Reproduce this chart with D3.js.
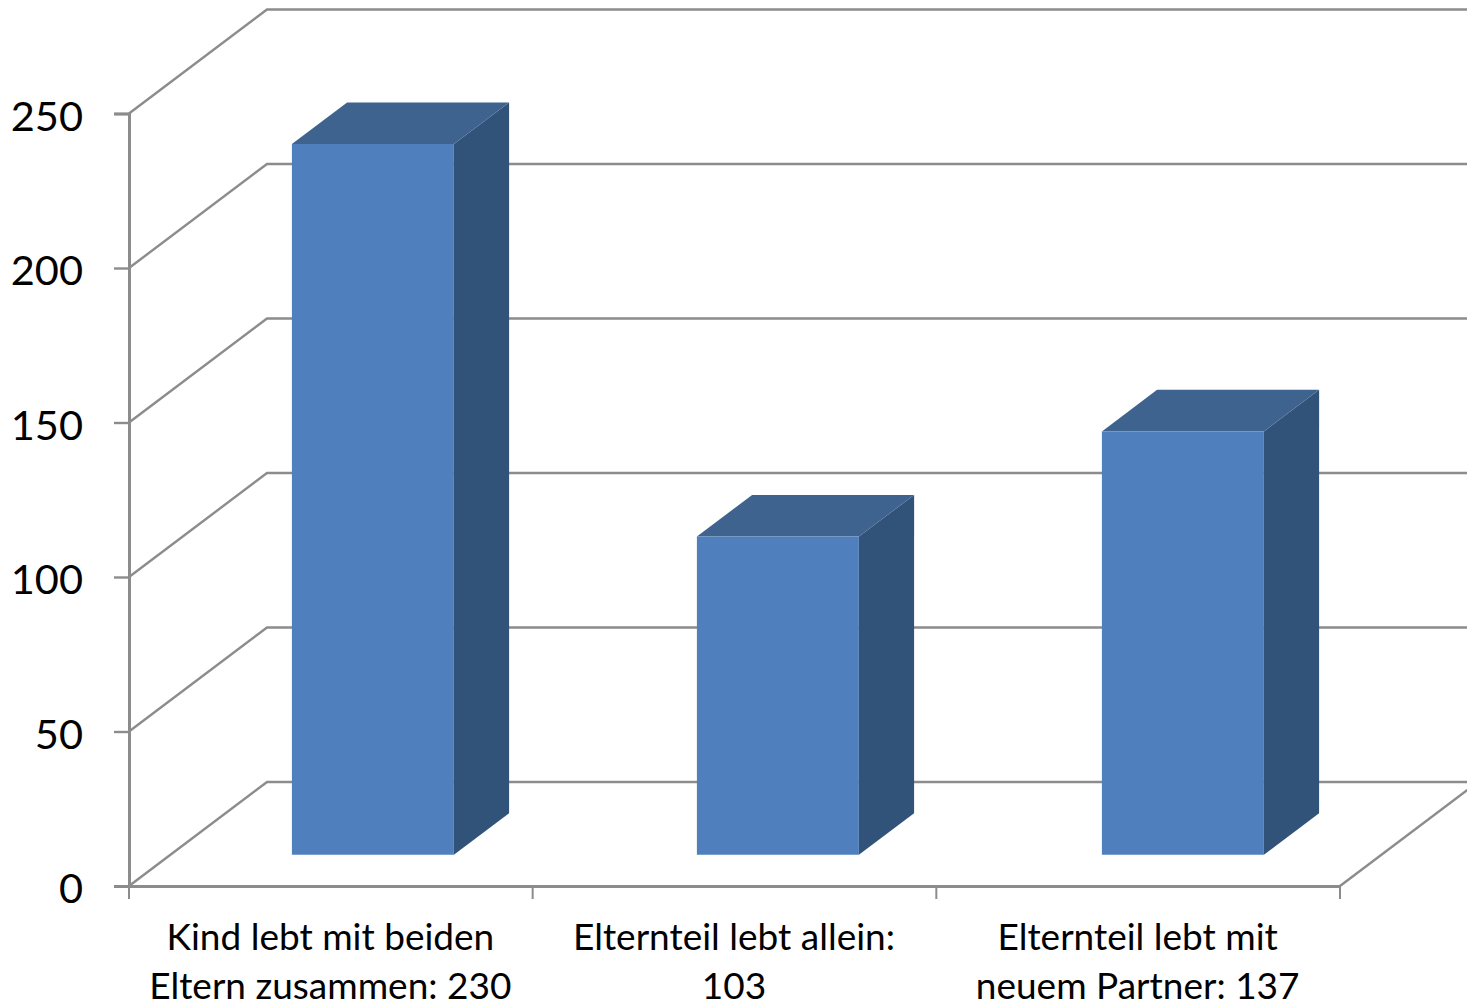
<!DOCTYPE html>
<html lang="de">
<head>
<meta charset="utf-8">
<script src="https://cdn.jsdelivr.net/npm/d3@7/dist/d3.min.js"></script>
<style>
html, body { margin: 0; padding: 0; background: #fff; overflow: hidden; }
svg { display: block; }
text { font-family: Lato, "Open Sans", sans-serif; fill: #000; }
</style>
</head>
<body>
<svg id="chart" width="1467" height="1004"></svg>
<script>
// Household situation of the child
const categoryLines = [
  ["Kind lebt mit beiden", "Eltern zusammen: 230"],
  ["Elternteil lebt allein:", "103"],
  ["Elternteil lebt mit", "neuem Partner: 137"]
];
const values = [230, 103, 137];
const yTicks = [0, 50, 100, 150, 200, 250];

const svg = d3.select("#chart");
const categories = d3.range(values.length);

const band = d3.scaleBand().domain(categories).range([129, 1340]);
const bars = d3.scaleBand().domain(categories).range([129, 1344])
  .paddingInner(0.6).paddingOuter(0.3);
const y = d3.scaleLinear().domain([0, 250]).range([886, 113.5]);

// Oblique projection: depth 0 is the front plane, depth 1 the rear wall
const depthX = d3.scaleLinear().domain([0, 1]).range([0, 138]);
const depthY = d3.scaleLinear().domain([0, 1]).range([0, -104]);
const pt = (x, v, d) => [x + depthX(d), y(v) + depthY(d)];
const poly = pts => pts.map(p => p.join(",")).join(" ");

const gridColor = "#8c8c8c";
const rightEdge = 1467;

// Side wall and rear wall grid lines
const grid = svg.append("g").attr("fill", "none")
  .attr("stroke", gridColor).attr("stroke-width", 2.4);
grid.selectAll("polyline").data(yTicks).join("polyline")
  .attr("points", v => poly([pt(129, v, 0), pt(129, v, 1), [rightEdge, pt(129, v, 1)[1]]]));

// Right edge of the floor
const floorEnd = pt(1340, 0, 0);
const floorBack = pt(1340, 0, 1);
grid.append("line")
  .attr("x1", floorEnd[0]).attr("y1", floorEnd[1])
  .attr("x2", floorBack[0]).attr("y2", floorBack[1]);

// Bars as front, top and side faces
const barFront = 0.3, barBack = 0.7;
const barG = svg.append("g").selectAll("g").data(categories).join("g");
barG.append("polygon").attr("fill", "#325379")
  .attr("points", i => {
    const r = bars(i) + bars.bandwidth();
    return poly([pt(r, 0, barFront), pt(r, 0, barBack), pt(r, values[i], barBack), pt(r, values[i], barFront)]);
  });
barG.append("polygon").attr("fill", "#3e638f")
  .attr("points", i => {
    const l = bars(i), r = l + bars.bandwidth(), v = values[i];
    return poly([pt(l, v, barFront), pt(l, v, barBack), pt(r, v, barBack), pt(r, v, barFront)]);
  });
barG.append("polygon").attr("fill", "#4f80bd")
  .attr("points", i => {
    const l = bars(i), r = l + bars.bandwidth(), v = values[i];
    return poly([pt(l, 0, barFront), pt(r, 0, barFront), pt(r, v, barFront), pt(l, v, barFront)]);
  });

// Value axis
const yAxis = d3.axisLeft(y).tickValues(yTicks).tickSize(15).tickPadding(31);
const yG = svg.append("g").attr("transform", "translate(129,0)").call(yAxis);
yG.select(".domain").attr("stroke", gridColor).attr("stroke-width", 3);
yG.selectAll(".tick line").attr("stroke", gridColor).attr("stroke-width", 2.4);
yG.selectAll(".tick text")
  .attr("y", 2).attr("dy", "0.36em")
  .style("font-family", "Lato, sans-serif").style("font-size", "41.5px")
  .attr("text-anchor", "end").attr("fill", "#000");

// Category axis
const xAxis = d3.axisBottom(band).tickValues([]).tickSizeOuter(0);
const xG = svg.append("g").attr("transform", "translate(0,886)").call(xAxis);
xG.select(".domain").attr("stroke", gridColor).attr("stroke-width", 3);
xG.selectAll(".cat-tick").data([...categories, values.length]).join("line")
  .attr("class", "cat-tick")
  .attr("x1", i => i < values.length ? band(i) : band(i - 1) + band.bandwidth())
  .attr("x2", i => i < values.length ? band(i) : band(i - 1) + band.bandwidth())
  .attr("y1", 0).attr("y2", 13)
  .attr("stroke", gridColor).attr("stroke-width", 2);

// Category labels, two lines each
const labels = svg.append("g").selectAll("text").data(categories).join("text")
  .attr("text-anchor", "middle")
  .style("font-size", "37px");
labels.selectAll("tspan").data(i => categoryLines[i].map(t => ({ t, i }))).join("tspan")
  .attr("x", d => band(d.i) + band.bandwidth() / 2 - 0.5)
  .attr("y", (d, k) => 950 + k * 49)
  .text(d => d.t);
</script>
</body>
</html>
